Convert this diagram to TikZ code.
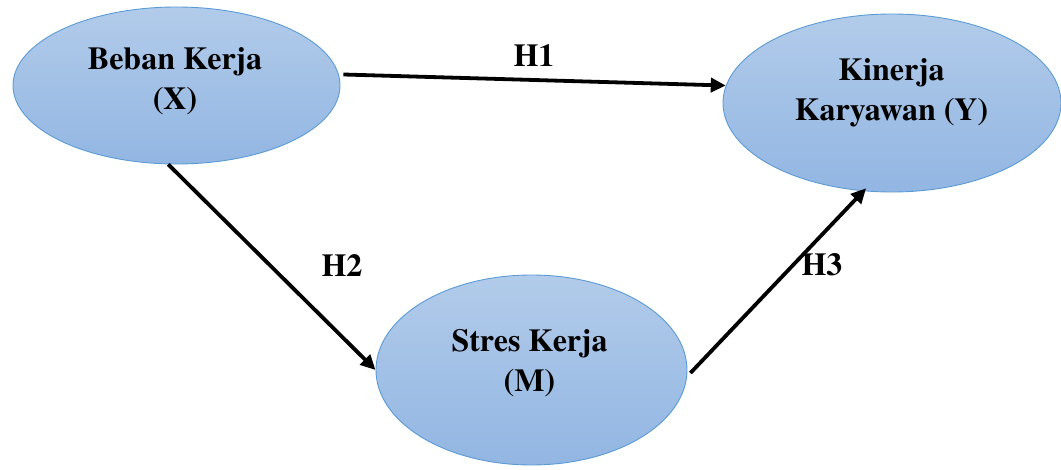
\documentclass[tikz,border=0pt]{standalone}
\usepackage{fontspec}
\newfontfamily\tnrbold{texgyretermes-bold.otf}
\usetikzlibrary{arrows.meta,shapes.geometric}
\definecolor{elltop}{RGB}{178,203,234}
\definecolor{ellbot}{RGB}{146,182,226}
\definecolor{ellline}{RGB}{91,155,213}
\tikzset{
  var/.style={ellipse, draw=ellline, line width=0.9pt, top color=elltop, bottom color=ellbot,
    inner sep=0pt},
  vartext/.style={align=center, inner sep=0pt, font=\tnrbold\fontsize{32}{40.5}\selectfont},
  link/.style={line width=3.8pt, -{Triangle[length=15pt,width=14pt]}},
  hlab/.style={font=\tnrbold\fontsize{32}{36}\selectfont}
}
\begin{document}
\begin{tikzpicture}[x=1pt,y=-1pt]
\useasboundingbox (0,0) rectangle (1061,470);
\node[var, minimum width=327pt, minimum height=157pt] (b) at (176.5,85.5) {};
\node[var, minimum width=338pt, minimum height=178pt] (k) at (892,103) {};
\node[var, minimum width=311pt, minimum height=190pt] (s) at (531.5,370) {};
\node[vartext] (bt) at (175,81) {Beban Kerja\\(X)};
\node[vartext] (kt) at (891.5,93) {Kinerja\\Karyawan (Y)};
\node[vartext] (st) at (529.5,363) {Stres Kerja\\(M)};
\draw[link] ([shift={(3pt,11pt)}]b.east) -- (k.174);
\draw[link] (b.264) -- (s.west);
\draw[link, shorten >=-4pt] ([xshift=3pt,yshift=-3pt]s.east) -- (k.252);
\node[hlab] (h1) at (534,55) {H1};
\node[hlab] (h2) at (342,265) {H2};
\node[hlab] (h3) at (822,265) {H3};
\end{tikzpicture}
\end{document}
